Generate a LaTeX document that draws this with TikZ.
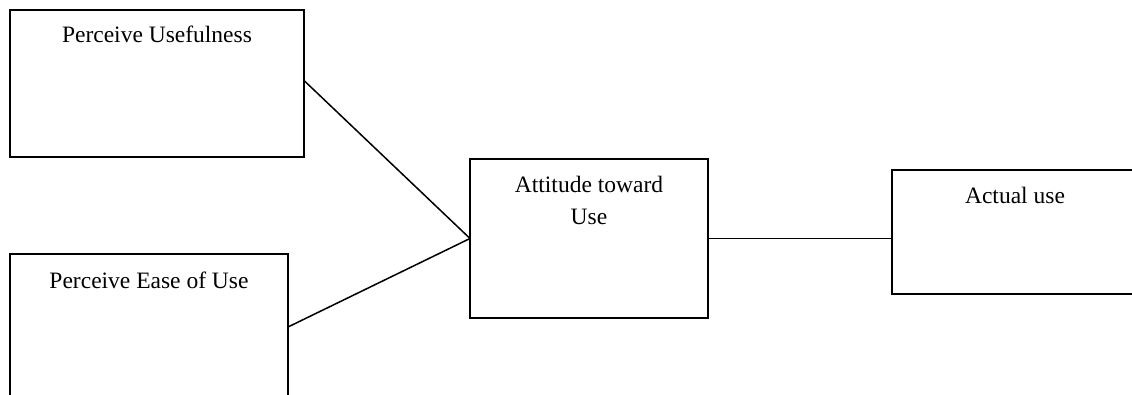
\documentclass[tikz,border=0pt]{standalone}
\usepackage{fontspec}
\setmainfont{Liberation Serif}
\begin{document}
\begin{tikzpicture}[x=1pt,y=-1pt,
  box/.style={draw=black,line width=1.5pt,anchor=north west,inner sep=0pt,outer sep=0pt},
  lbl/.style={anchor=base,inner sep=0pt,align=center,font=\fontsize{23.5}{32}\selectfont},
  conn/.style={draw=black,line width=1.5pt}]
\useasboundingbox (0,0) rectangle (1132,395);
\clip (0,0) rectangle (1132,395);
\node[box,minimum width=294pt,minimum height=147pt] (pu) at (10,10) {};
\node[box,minimum width=278pt,minimum height=146pt] (pe) at (10,254) {};
\node[box,minimum width=238pt,minimum height=159pt] (at) at (470,159) {};
\node[box,minimum width=246pt,minimum height=124pt] (au) at (892,170) {};
\node[lbl] (tpu) at ([yshift=-33pt]pu.north) {Perceive Usefulness};
\node[lbl] (tpe) at ([yshift=-34pt]pe.north) {Perceive Ease of Use};
\node[lbl] (tat) at ([yshift=-66pt]at.north) {Attitude toward\\Use};
\node[lbl] (tau) at ([yshift=-34pt]au.north) {Actual use};
\draw[conn] ([yshift=3pt]pu.east) -- (at.west);
\draw[conn] (pe.east) -- (at.west);
\draw[conn] (at.east) -- (at.east -| au.west);
\end{tikzpicture}
\end{document}
